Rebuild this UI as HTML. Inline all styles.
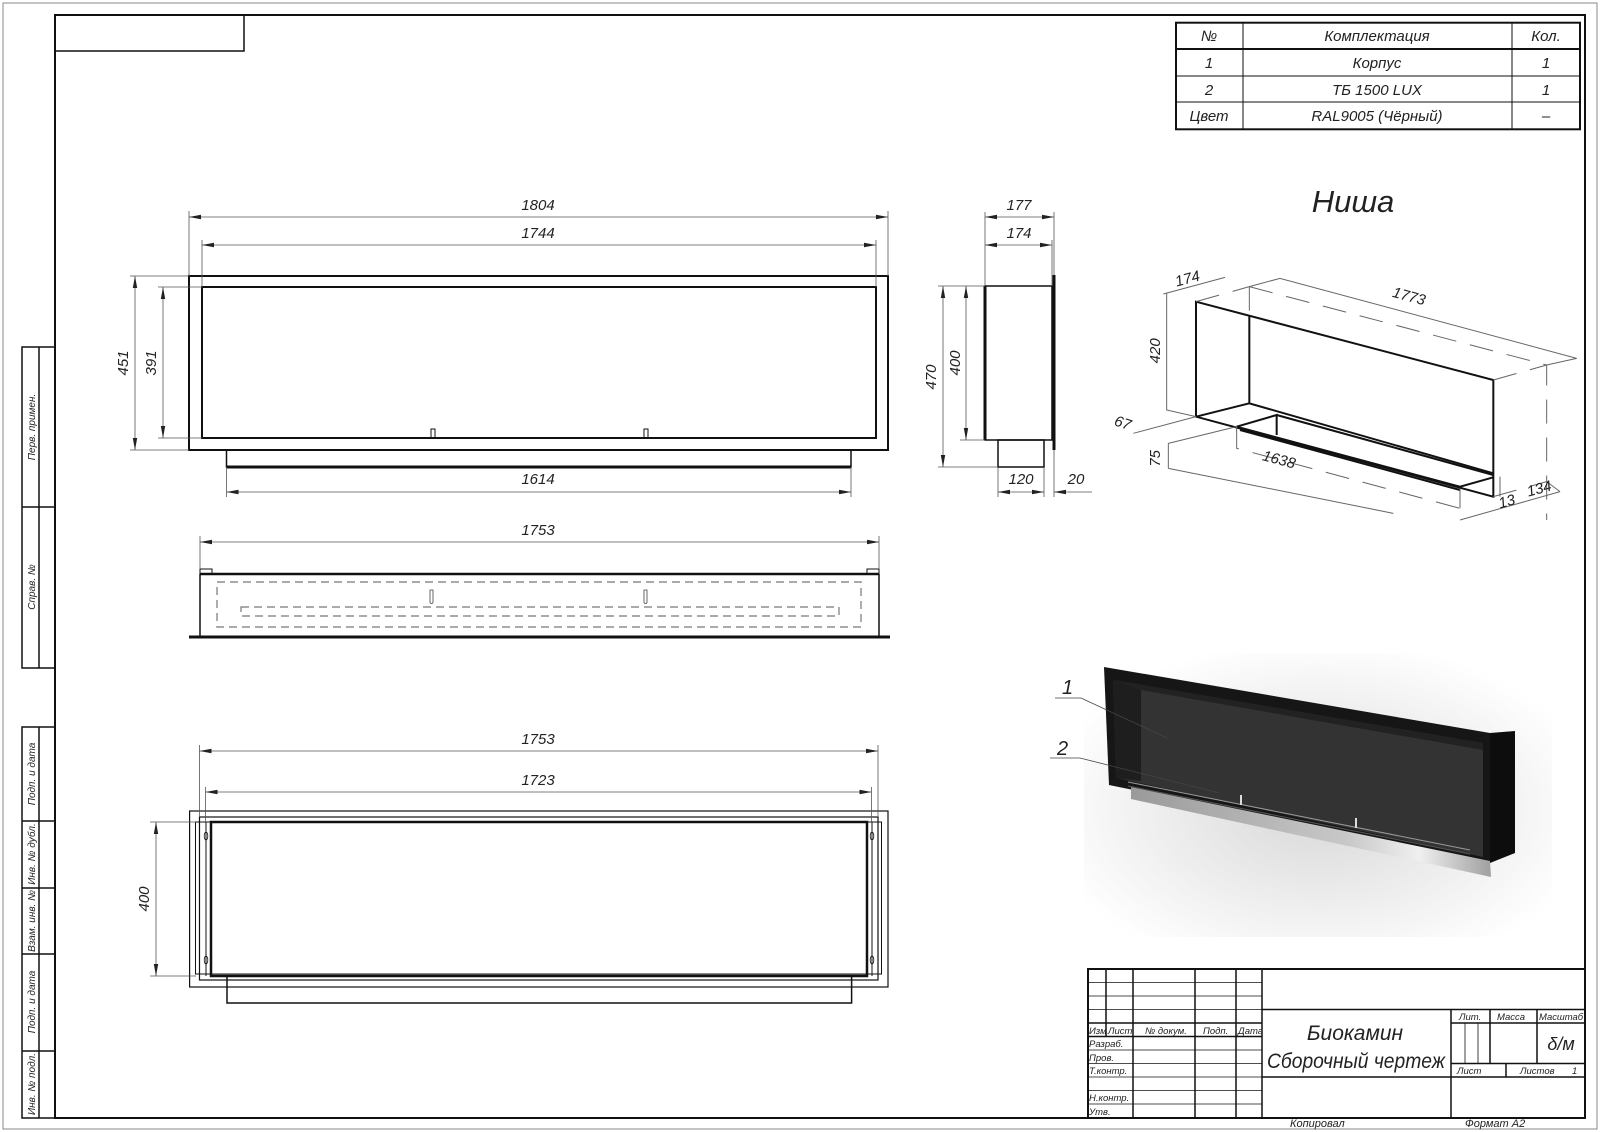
<!DOCTYPE html>
<html><head><meta charset="utf-8"><style>
html,body{margin:0;padding:0;background:#fff;}
svg{display:block;}
text{font-family:"Liberation Sans","DejaVu Sans",sans-serif;font-style:italic;fill:#222;}
</style></head><body>
<svg width="1600" height="1132" viewBox="0 0 1600 1132" xmlns="http://www.w3.org/2000/svg">
<defs>
<marker id="a" viewBox="0 0 12 6" refX="12" refY="3" markerWidth="12" markerHeight="6" markerUnits="userSpaceOnUse" orient="auto-start-reverse"><path d="M0,0.8 L12,3 L0,5.2 Z" fill="#222"/></marker>
<linearGradient id="steel" x1="0" y1="0" x2="1" y2="0"><stop offset="0" stop-color="#9a9a9a"/><stop offset="0.6" stop-color="#c8c8c8"/><stop offset="0.8" stop-color="#f0f0f0"/><stop offset="1" stop-color="#a0a0a0"/></linearGradient>
<radialGradient id="shadow" cx="0.5" cy="0.55" r="0.6"><stop offset="0" stop-color="#d8d8d8"/><stop offset="1" stop-color="#ffffff"/></radialGradient>
</defs>

<rect x="3" y="3" width="1594" height="1126" fill="none" stroke="#888" stroke-width="1"/>
<rect x="55" y="15" width="1530" height="1103" fill="none" stroke="#111" stroke-width="2"/>
<rect x="55" y="15" width="189" height="36" fill="none" stroke="#111" stroke-width="1.5"/>

<g stroke="#111" stroke-width="1.5" fill="none">
<rect x="22" y="347" width="33" height="321"/><line x1="39" y1="347" x2="39" y2="668"/><line x1="22" y1="507" x2="55" y2="507"/>
<rect x="22" y="727" width="33" height="391"/><line x1="39" y1="727" x2="39" y2="1118"/>
<line x1="22" y1="821" x2="55" y2="821"/><line x1="22" y1="888" x2="55" y2="888"/><line x1="22" y1="954" x2="55" y2="954"/><line x1="22" y1="1051" x2="55" y2="1051"/>
</g>
<g font-size="10">
<text transform="translate(35,427) rotate(-90)" text-anchor="middle">Перв. примен.</text>
<text transform="translate(35,587) rotate(-90)" text-anchor="middle">Справ. №</text>
<text transform="translate(35,774) rotate(-90)" text-anchor="middle">Подп. и дата</text>
<text transform="translate(35,854) rotate(-90)" text-anchor="middle">Инв. № дубл.</text>
<text transform="translate(35,921) rotate(-90)" text-anchor="middle">Взам. инв. №</text>
<text transform="translate(35,1002) rotate(-90)" text-anchor="middle">Подп. и дата</text>
<text transform="translate(35,1084) rotate(-90)" text-anchor="middle">Инв. № подл.</text>
</g>

<g stroke="#111" fill="none">
<rect x="1176" y="22.7" width="404" height="106.6" stroke-width="2"/>
<line x1="1176" y1="49" x2="1580" y2="49" stroke-width="2"/>
<line x1="1176" y1="76" x2="1580" y2="76" stroke-width="1"/>
<line x1="1176" y1="102" x2="1580" y2="102" stroke-width="1"/>
<line x1="1243" y1="22.7" x2="1243" y2="129.3" stroke-width="1"/>
<line x1="1512" y1="22.7" x2="1512" y2="129.3" stroke-width="1"/>
</g>
<g font-size="15" text-anchor="middle">
<text x="1209" y="41">№</text><text x="1377" y="41">Комплектация</text><text x="1546" y="41">Кол.</text>
<text x="1209" y="68">1</text><text x="1377" y="68">Корпус</text><text x="1546" y="68">1</text>
<text x="1209" y="95">2</text><text x="1377" y="95">ТБ  1500 LUX</text><text x="1546" y="95">1</text>
<text x="1209" y="121">Цвет</text><text x="1377" y="121">RAL9005 (Чёрный)</text><text x="1546" y="121">–</text>
</g>

<text x="1353" y="212" font-size="31" text-anchor="middle">Ниша</text>

<g stroke="#111" fill="none">
<rect x="189" y="276" width="699" height="174" stroke-width="2"/>
<rect x="202" y="287" width="674" height="151" stroke-width="2"/>
<path d="M226.5,450 V467 H851 V450" stroke-width="1.5"/>
<line x1="226.5" y1="467" x2="851" y2="467" stroke-width="3"/>
<rect x="431" y="429" width="4" height="9" stroke-width="1"/>
<rect x="644" y="429" width="4" height="9" stroke-width="1"/>
</g>
<g stroke="#555" stroke-width="0.8" fill="none">
<line x1="189" y1="276" x2="189" y2="211"/><line x1="888" y1="276" x2="888" y2="211"/>
<line x1="202" y1="287" x2="202" y2="240"/><line x1="876" y1="287" x2="876" y2="240"/>
<line x1="226.5" y1="467" x2="226.5" y2="497"/><line x1="851" y1="467" x2="851" y2="497"/>
<line x1="130" y1="276" x2="189" y2="276"/><line x1="130" y1="450" x2="189" y2="450"/>
<line x1="158" y1="287" x2="202" y2="287"/><line x1="158" y1="438" x2="202" y2="438"/>
<line x1="189" y1="217" x2="888" y2="217" marker-start="url(#a)" marker-end="url(#a)"/>
<line x1="202" y1="245" x2="876" y2="245" marker-start="url(#a)" marker-end="url(#a)"/>
<line x1="226.5" y1="492" x2="851" y2="492" marker-start="url(#a)" marker-end="url(#a)"/>
<line x1="135" y1="276" x2="135" y2="450" marker-start="url(#a)" marker-end="url(#a)"/>
<line x1="163" y1="287" x2="163" y2="438" marker-start="url(#a)" marker-end="url(#a)"/>
</g>
<g font-size="15" text-anchor="middle">
<text x="538" y="210">1804</text><text x="538" y="238">1744</text><text x="538" y="484">1614</text>
<text transform="translate(128,363) rotate(-90)">451</text>
<text transform="translate(156,363) rotate(-90)">391</text>
</g>

<g stroke="#111" fill="none">
<rect x="985" y="286" width="67" height="154" stroke-width="1.5"/>
<line x1="985" y1="286" x2="985" y2="440" stroke-width="3"/>
<line x1="1054" y1="275" x2="1054" y2="450" stroke-width="3"/>
<rect x="998" y="440" width="46" height="27" stroke-width="1.5"/>
</g>
<g stroke="#555" stroke-width="0.8" fill="none">
<line x1="985" y1="286" x2="985" y2="212"/><line x1="1054" y1="275" x2="1054" y2="212"/><line x1="1052" y1="286" x2="1052" y2="240"/>
<line x1="985" y1="217" x2="1054" y2="217" marker-start="url(#a)" marker-end="url(#a)"/>
<line x1="985" y1="245" x2="1052" y2="245" marker-start="url(#a)" marker-end="url(#a)"/>
<line x1="938" y1="286" x2="985" y2="286"/><line x1="938" y1="467" x2="998" y2="467"/><line x1="960" y1="440" x2="985" y2="440"/>
<line x1="943" y1="286" x2="943" y2="467" marker-start="url(#a)" marker-end="url(#a)"/>
<line x1="966" y1="286" x2="966" y2="440" marker-start="url(#a)" marker-end="url(#a)"/>
<line x1="998" y1="467" x2="998" y2="497"/><line x1="1044" y1="467" x2="1044" y2="497"/><line x1="1054" y1="450" x2="1054" y2="497"/>
<line x1="998" y1="492" x2="1044" y2="492" marker-start="url(#a)" marker-end="url(#a)"/>
<line x1="1092" y1="492" x2="1054" y2="492" marker-end="url(#a)"/>
</g>
<g font-size="15" text-anchor="middle">
<text x="1019" y="210">177</text><text x="1019" y="238">174</text>
<text transform="translate(936,377) rotate(-90)">470</text>
<text transform="translate(960,363) rotate(-90)">400</text>
<text x="1021" y="484">120</text><text x="1076" y="484">20</text>
</g>

<g stroke="#111" fill="none">
<line x1="200" y1="574" x2="879" y2="574" stroke-width="2.5"/>
<line x1="200" y1="574" x2="200" y2="637" stroke-width="1.5"/>
<line x1="879" y1="574" x2="879" y2="637" stroke-width="1.5"/>
<line x1="189" y1="637" x2="890" y2="637" stroke-width="3"/>
<rect x="200" y="569" width="12" height="5" stroke-width="1"/>
<rect x="867" y="569" width="12" height="5" stroke-width="1"/>
</g>
<g stroke="#777" stroke-width="1.2" fill="none" stroke-dasharray="8,5">
<rect x="217" y="582" width="644" height="45"/>
<rect x="241" y="607" width="598" height="9"/>
</g>
<g stroke="#444" stroke-width="0.8" fill="none">
<path d="M430,590 V602 a1.5,1.5 0 1 0 3,0 V590 Z"/>
<path d="M644,590 V602 a1.5,1.5 0 1 0 3,0 V590 Z"/>
</g>
<g stroke="#555" stroke-width="0.8" fill="none">
<line x1="200" y1="569" x2="200" y2="536"/><line x1="879" y1="569" x2="879" y2="536"/>
<line x1="200" y1="542" x2="879" y2="542" marker-start="url(#a)" marker-end="url(#a)"/>
</g>
<text x="538" y="535" font-size="15" text-anchor="middle">1753</text>

<g stroke="#111" fill="none">
<rect x="189.6" y="811" width="698.4" height="176" stroke-width="1.2"/>
<rect x="199.5" y="817" width="678.5" height="163" stroke-width="1.2"/>
<rect x="195.5" y="822" width="686" height="152" stroke-width="1"/>
<rect x="211" y="822" width="656" height="154" stroke-width="2.5"/>
<line x1="206" y1="822" x2="206" y2="976" stroke-width="1"/>
<line x1="872" y1="822" x2="872" y2="976" stroke-width="1"/>
<path d="M227,976 V1003 H851.6 V976" stroke-width="1.5"/>
<ellipse cx="206" cy="836" rx="1.8" ry="4" stroke-width="0.8"/>
<ellipse cx="206" cy="960" rx="1.8" ry="4" stroke-width="0.8"/>
<ellipse cx="872" cy="836" rx="1.8" ry="4" stroke-width="0.8"/>
<ellipse cx="872" cy="960" rx="1.8" ry="4" stroke-width="0.8"/>
</g>
<g stroke="#555" stroke-width="0.8" fill="none">
<line x1="199.5" y1="817" x2="199.5" y2="745"/><line x1="878" y1="817" x2="878" y2="745"/>
<line x1="205.5" y1="822" x2="205.5" y2="787"/><line x1="871.5" y1="822" x2="871.5" y2="787"/>
<line x1="199.5" y1="751" x2="878" y2="751" marker-start="url(#a)" marker-end="url(#a)"/>
<line x1="205.5" y1="792" x2="871.5" y2="792" marker-start="url(#a)" marker-end="url(#a)"/>
<line x1="150" y1="822" x2="196" y2="822"/><line x1="150" y1="976" x2="196" y2="976"/>
<line x1="156" y1="822" x2="156" y2="976" marker-start="url(#a)" marker-end="url(#a)"/>
</g>
<g font-size="15" text-anchor="middle">
<text x="538" y="744">1753</text><text x="538" y="785">1723</text>
<text transform="translate(149,899) rotate(-90)">400</text>
</g>

<g transform="translate(1100,0) scale(0.33333)">
<g stroke="#111" stroke-width="2" fill="none">
<path vector-effect="non-scaling-stroke" d="M288,905 L1180,1140 L1180,1490 L288,1250 Z"/>
<path vector-effect="non-scaling-stroke" d="M448,947 L448,1210 L1180,1420"/>
<path vector-effect="non-scaling-stroke" d="M288,1250 L448,1210"/>
<path vector-effect="non-scaling-stroke" d="M410,1280 L530,1245 L530,1305"/>
<path vector-effect="non-scaling-stroke" d="M410,1280 L1080,1460 L1180,1432"/>
<path vector-effect="non-scaling-stroke" d="M420,1290 L1080,1470"/>
<path vector-effect="non-scaling-stroke" d="M530,1245 L1180,1425"/>
</g>
<g stroke="#666" fill="none" stroke-dasharray="24,14">
<path vector-effect="non-scaling-stroke" d="M448,860 L448,947"/>
<path vector-effect="non-scaling-stroke" d="M448,860 L1340,1095 L1340,1560"/>
<path vector-effect="non-scaling-stroke" d="M1180,1140 L1340,1095"/>
<path vector-effect="non-scaling-stroke" d="M288,905 L448,860"/>
<path vector-effect="non-scaling-stroke" d="M410,1280 L410,1345 L1080,1525 L1080,1560"/>
<path vector-effect="non-scaling-stroke" d="M1180,1490 L1340,1445"/>
<path vector-effect="non-scaling-stroke" d="M1080,1468 L1080,1525"/>
<path vector-effect="non-scaling-stroke" d="M1200,1430 L1200,1490"/>
</g>
<g stroke="#666" fill="none">
<path vector-effect="non-scaling-stroke" d="M200,880 L200,1230 L288,1250"/>
<path vector-effect="non-scaling-stroke" d="M190,882 L375,832"/>
<path vector-effect="non-scaling-stroke" d="M448,860 L540,835 L1430,1075 L1340,1095"/>
<path vector-effect="non-scaling-stroke" d="M100,1300 L288,1250"/>
<path vector-effect="non-scaling-stroke" d="M205,1330 L205,1405"/>
<path vector-effect="non-scaling-stroke" d="M205,1330 L410,1280"/>
<path vector-effect="non-scaling-stroke" d="M205,1405 L880,1540"/>
<path vector-effect="non-scaling-stroke" d="M1080,1560 L1380,1475"/>
<path vector-effect="non-scaling-stroke" d="M1340,1445 L1380,1475"/>
</g>
<g font-size="45">
<text transform="translate(230,860) rotate(-15)">174</text>
<text transform="translate(875,890) rotate(15)">1773</text>
<text transform="translate(180,1090) rotate(-90)">420</text>
<text transform="translate(40,1275) rotate(18)">67</text>
<text transform="translate(180,1400) rotate(-90)">75</text>
<text transform="translate(485,1380) rotate(15)">1638</text>
<text transform="translate(1200,1525) rotate(-15)">13</text>
<text transform="translate(1285,1490) rotate(-15)">134</text>
</g>
</g>

<rect x="1084" y="653" width="468" height="284" fill="url(#shadow)"/>
<polygon points="1104,667 1490,733 1490,863 1109,785" fill="#161616"/>
<polygon points="1490,733 1515,731 1515,853 1490,863" fill="#0d0d0d"/>
<polygon points="1113,680 1483,743 1483,857 1116,778" fill="#333"/>
<polygon points="1113,680 1141,684 1141,781 1116,778" fill="#1e1e1e"/>
<polygon points="1113,680 1483,743 1483,750 1141,690" fill="#222"/>
<polygon points="1131,787 1490,861 1491,877 1131,799" fill="url(#steel)"/>
<line x1="1128" y1="782" x2="1470" y2="850" stroke="#999" stroke-width="1"/>
<line x1="1128" y1="786" x2="1470" y2="854" stroke="#555" stroke-width="1"/>
<rect x="1240" y="795" width="2" height="10" fill="#ddd"/>
<rect x="1355" y="818" width="2" height="10" fill="#ddd"/>
<g stroke="#444" stroke-width="0.8" fill="none">
<path d="M1055,698 H1081 L1167,738"/>
<path d="M1050,758 H1080 L1219,793"/>
</g>
<text x="1062" y="694" font-size="20">1</text>
<text x="1057" y="755" font-size="20">2</text>

<g stroke="#111" fill="none">
<rect x="1088" y="969" width="497" height="149" stroke-width="2"/>
<g stroke-width="0.8">
<line x1="1088" y1="982.5" x2="1262" y2="982.5"/><line x1="1088" y1="996" x2="1262" y2="996"/>
<line x1="1088" y1="1009.5" x2="1262" y2="1009.5"/>
<line x1="1088" y1="1050" x2="1262" y2="1050"/><line x1="1088" y1="1063.5" x2="1262" y2="1063.5"/>
<line x1="1088" y1="1077" x2="1262" y2="1077"/><line x1="1088" y1="1090.5" x2="1262" y2="1090.5"/>
<line x1="1088" y1="1104" x2="1262" y2="1104"/>
<line x1="1465" y1="1023" x2="1465" y2="1063.5"/><line x1="1478" y1="1023" x2="1478" y2="1063.5"/>
</g>
<g stroke-width="1.5">
<line x1="1088" y1="1023" x2="1262" y2="1023"/><line x1="1088" y1="1036.5" x2="1262" y2="1036.5"/>
<line x1="1106" y1="969" x2="1106" y2="1036.5"/>
<line x1="1133" y1="969" x2="1133" y2="1118"/><line x1="1195" y1="969" x2="1195" y2="1118"/><line x1="1236" y1="969" x2="1236" y2="1118"/>
<line x1="1262" y1="969" x2="1262" y2="1118"/>
<line x1="1262" y1="1009.5" x2="1585" y2="1009.5"/><line x1="1262" y1="1077" x2="1585" y2="1077"/>
<line x1="1451" y1="1009.5" x2="1451" y2="1118"/>
<line x1="1451" y1="1023" x2="1585" y2="1023"/><line x1="1451" y1="1063.5" x2="1585" y2="1063.5"/>
<line x1="1490" y1="1009.5" x2="1490" y2="1063.5"/><line x1="1537" y1="1009.5" x2="1537" y2="1063.5"/>
<line x1="1506" y1="1063.5" x2="1506" y2="1077"/>
</g>
</g>
<g font-size="9.5">
<text x="1089" y="1034">Изм</text><text x="1108" y="1034">Лист</text><text x="1145" y="1034">№ докум.</text><text x="1203" y="1034">Подп.</text><text x="1238" y="1034">Дата</text>
<text x="1089" y="1047">Разраб.</text><text x="1089" y="1061">Пров.</text><text x="1089" y="1074">Т.контр.</text>
<text x="1089" y="1101">Н.контр.</text><text x="1089" y="1115">Утв.</text>
<text x="1459" y="1020">Лит.</text><text x="1497" y="1020">Масса</text><text x="1539" y="1020" textLength="44" lengthAdjust="spacingAndGlyphs">Масштаб</text>
<text x="1457" y="1074">Лист</text><text x="1520" y="1074">Листов</text><text x="1572" y="1074">1</text>
</g>
<text x="1355" y="1040" font-size="21" text-anchor="middle">Биокамин</text>
<text x="1356" y="1068" font-size="21" text-anchor="middle" textLength="178" lengthAdjust="spacingAndGlyphs">Сборочный чертеж</text>
<text x="1561" y="1050" font-size="18" text-anchor="middle">δ/м</text>
<text x="1290" y="1127" font-size="11">Копировал</text>
<text x="1465" y="1127" font-size="11">Формат    A2</text>
</svg>
</body></html>
